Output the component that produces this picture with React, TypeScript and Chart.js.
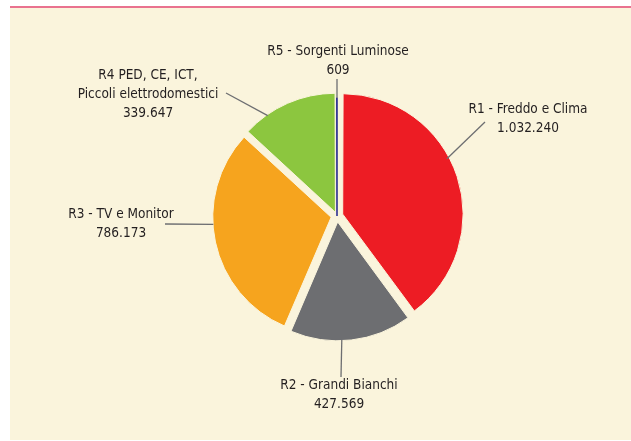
import React, { useEffect, useRef } from "react";
import { Chart, registerables } from "chart.js";

Chart.register(...registerables);

// ---- data ----
const categoryLines: string[][] = [
  ["R1 - Freddo e Clima"],
  ["R2 - Grandi Bianchi"],
  ["R3 - TV e Monitor"],
  ["R4 PED, CE, ICT,", "Piccoli elettrodomestici"],
  ["R5 - Sorgenti Luminose"],
];
const values: number[] = [1032240, 427569, 786173, 339647, 609];
const sliceColors: string[] = ["#ED1C24", "#6D6E71", "#F6A41E", "#8CC63F", "#2E3192"];

// ---- layout / style ----
const W = 631;
const H = 441;
const CX = 337;
const CY = 216;
const RADIUS = 118;
const CREAM = "#FAF4DC";
const TEXT_COLOR = "#231F20";
const LEADER_COLOR = "#6D6E71";
const FONT = "13.5px 'DejaVu Sans Condensed', 'Liberation Sans Narrow', Lato, sans-serif";
const LINE_H = 19;
const explode = [6, 6, 6, 4, 0]; // px translation per slice

// leader start angle (deg clockwise from top), leader end and text centre relative to pie centre
const labelLayout = [
  { a: 62, end: [148, -94], text: [191, -97] },
  { a: 178, end: [4, 161], text: [2, 179] },
  { a: 266.5, end: [-172, 8], text: [-216, 8] },
  { a: 325, end: [-111, -123], text: [-189, -122] },
  { a: 0, end: [0, -137], text: [1, -155] },
];

function fmt(n: number): string {
  return String(n).replace(/\B(?=(\d{3})+(?!\d))/g, ".");
}

const labelPlugin = {
  id: "pieLabels",
  afterDatasetsDraw(chart: any) {
    const ctx = chart.ctx as CanvasRenderingContext2D;
    const meta = chart.getDatasetMeta(0);
    ctx.save();
    meta.data.forEach((arc: any, i: number) => {
      const p = arc.getProps(["x", "y", "startAngle", "endAngle", "outerRadius"], true);
      const off = (arc.options.offset || 0) / 4;
      const half = (p.startAngle + p.endAngle) / 2;
      const tx = p.x + Math.cos(half) * off;
      const ty = p.y + Math.sin(half) * off;
      const L = labelLayout[i];
      const ang = (L.a * Math.PI) / 180;
      const sx = tx + Math.sin(ang) * p.outerRadius;
      const sy = ty - Math.cos(ang) * p.outerRadius;
      ctx.strokeStyle = LEADER_COLOR;
      ctx.lineWidth = 1.3;
      ctx.beginPath();
      ctx.moveTo(sx, sy);
      ctx.lineTo(p.x + L.end[0], p.y + L.end[1]);
      ctx.stroke();
      const lines = [...categoryLines[i], fmt(values[i])];
      ctx.fillStyle = TEXT_COLOR;
      ctx.font = FONT;
      ctx.textAlign = "center";
      ctx.textBaseline = "middle";
      const x0 = p.x + L.text[0];
      const yc = p.y + L.text[1];
      const top = yc - ((lines.length - 1) * LINE_H) / 2;
      lines.forEach((t, k) => ctx.fillText(t, x0, top + k * LINE_H));
    });
    ctx.restore();
  },
};

export default function App() {
  const ref = useRef<HTMLCanvasElement | null>(null);
  useEffect(() => {
    if (!ref.current) return;
    const half = RADIUS + 12;
    const chart = new Chart(ref.current, {
      type: "pie",
      data: {
        labels: categoryLines.map((l) => l.join(" ")),
        datasets: [
          {
            data: values,
            backgroundColor: sliceColors,
            borderColor: [CREAM, CREAM, CREAM, CREAM, "#2E3192"],
            borderWidth: [1, 1, 1, 1, 1.6],
            offset: explode.map((d) => d * 4),
          },
        ],
      },
      options: {
        animation: false,
        responsive: true,
        maintainAspectRatio: false,
        radius: RADIUS,
        layout: {
          padding: { left: CX - half, right: W - CX - half, top: CY - half, bottom: H - CY - half },
        },
        plugins: { legend: { display: false }, tooltip: { enabled: false } },
      },
      plugins: [labelPlugin],
    });
    return () => chart.destroy();
  }, []);
  return (
    <div style={{ position: "fixed", left: 0, top: 0, width: W, height: H, background: "#ffffff" }}>
      <div style={{ position: "absolute", left: 10, top: 6, width: W - 10, height: 2, background: "#E9728F" }} />
      <div style={{ position: "absolute", left: 10, top: 8, width: W - 10, height: 432, background: CREAM }} />
      <div style={{ position: "absolute", left: 0, top: 0, width: W, height: H }}>
        <canvas ref={ref} />
      </div>
    </div>
  );
}
